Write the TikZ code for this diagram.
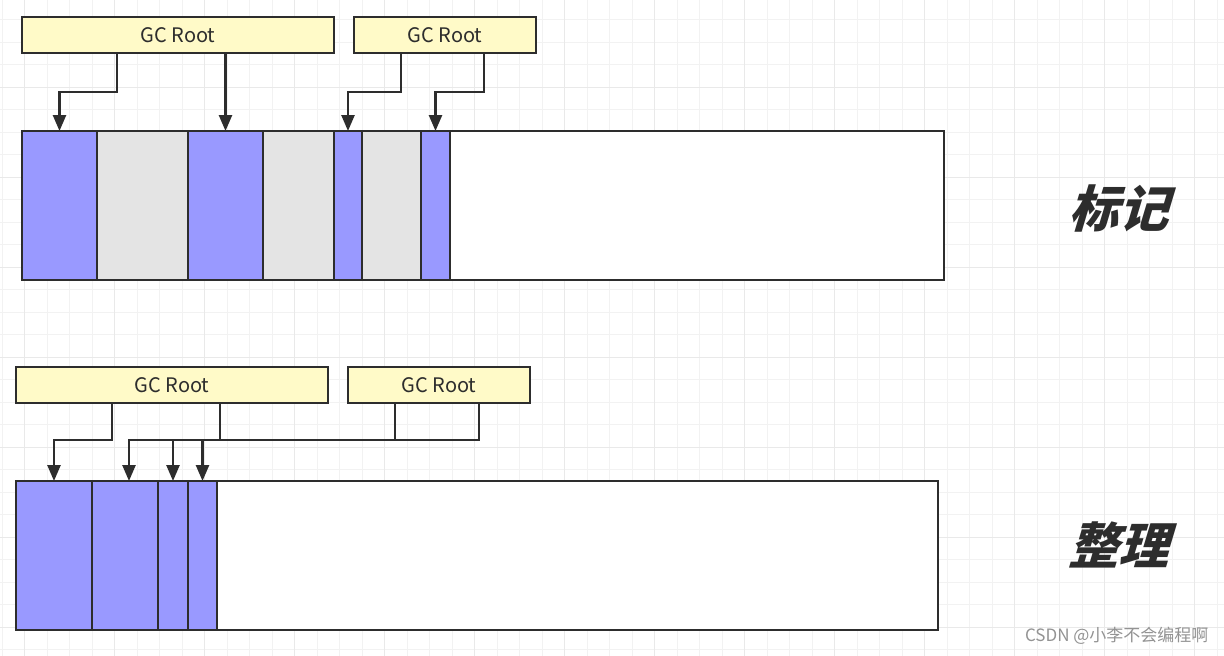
\documentclass[tikz,border=0pt]{standalone}
\usepackage{fontspec}
\usepackage{tikz}
\usetikzlibrary{arrows.meta,positioning}
\newfontfamily\cjk{Noto Sans CJK SC}
\newfontfamily\markfont{Noto Sans CJK SC}[FakeSlant=0.3]
\definecolor{edge}{RGB}{45,45,45}
\definecolor{rootyellow}{RGB}{255,250,200}
\definecolor{liveblue}{RGB}{153,153,255}
\definecolor{deadgray}{RGB}{228,228,228}
\definecolor{gridminor}{RGB}{242,242,242}
\definecolor{gridmajor}{RGB}{233,233,233}
\tikzset{
    %Define standard arrow tip
    >={Triangle[length=16pt,width=13pt]},
    %Define style for the root boxes
    rootbox/.style={
           rectangle,
           draw=edge, line width=2.5pt,
           fill=rootyellow,
           minimum width=#1,
           minimum height=36pt,
           inner sep=0pt, outer sep=0pt,
           anchor=north west,
           text=edge,
           font=\cjk\fontsize{20pt}{20pt}\selectfont},
    %Define style for heap blocks
    seg/.style={
           rectangle,
           draw=edge, line width=2.5pt,
           minimum height=149pt,
           minimum width=#1,
           inner sep=0pt, outer sep=0pt},
    live/.style={seg=#1, fill=liveblue},
    dead/.style={seg=#1, fill=deadgray},
    free/.style={seg=#1, fill=white},
    % Define arrow style
    ptr/.style={
           ->,
           draw=edge,
           line width=2.5pt},
    wire/.style={
           draw=edge,
           line width=2.5pt},
    phase/.style={
           text=edge,
           font=\markfont\bfseries\fontsize{50pt}{50pt}\selectfont}
}
\begin{document}
\begin{tikzpicture}[x=1pt,y=-1pt]
\useasboundingbox (0,0) rectangle (1224,656);
\fill[white] (0,0) rectangle (1224,656);
% background grid
\foreach \i in {0,...,54}
  \draw[gridminor,line width=1pt] (2+22.5*\i,0) -- (2+22.5*\i,656);
\foreach \i in {0,...,29}
  \draw[gridminor,line width=1pt] (0,-3+22.5*\i) -- (1224,-3+22.5*\i);
\foreach \i in {0,...,13}
  \draw[gridmajor,line width=1pt] (24.5+90*\i,0) -- (24.5+90*\i,656);
\foreach \i in {0,...,7}
  \draw[gridmajor,line width=1pt] (0,-3+90*\i) -- (1224,-3+90*\i);

% mark phase
\node[rootbox=312pt](rootA) at (22,17){GC Root};
\node[rootbox=182pt](rootB) at (354,17){GC Root};
\node[live=75pt, anchor=north west](segA) at (22,131){};
\node[dead=91pt, right=0pt of segA](segB){};
\node[live=75pt, right=0pt of segB](segC){};
\node[dead=71pt, right=0pt of segC](segD){};
\node[live=28pt, right=0pt of segD](segE){};
\node[dead=59pt, right=0pt of segE](segF){};
\node[live=29pt, right=0pt of segF](segG){};
\node[free=494pt, right=0pt of segG](segH){};
\draw[ptr] ([xshift=95pt]rootA.south west) -- ++(0,39) -| (segA.north);
\draw[ptr] (rootA.south -| segC.north) -- (segC.north);
\draw[ptr] ([xshift=47pt]rootB.south west) -- ++(0,39) -| (segE.north);
\draw[ptr] ([xshift=130pt]rootB.south west) -- ++(0,39) -| (segG.north);
\node[phase](markLabel) at (1118,208){标记};

% compact phase
\node[rootbox=312pt](rootC) at (16,367){GC Root};
\node[rootbox=182pt](rootD) at (348,367){GC Root};
\node[live=76pt, anchor=north west](segI) at (16,481){};
\node[live=66pt, right=0pt of segI](segJ){};
\node[live=30pt, right=0pt of segJ](segK){};
\node[live=29pt, right=0pt of segK](segL){};
\node[free=721pt, right=0pt of segL](segM){};
\draw[ptr] ([xshift=96pt]rootC.south west) -- ++(0,37) -| (segI.north);
\draw[ptr] ([xshift=131pt]rootD.south west) -- ++(0,37) coordinate (bus) -| ([xshift=4pt]segJ.north);
\draw[ptr] (bus -| segK.north) -- (segK.north);
\draw[ptr] (bus -| segL.north) -- (segL.north);
\draw[wire] ([xshift=204pt]rootC.south west) -- ++(0,37);
\draw[wire] ([xshift=47pt]rootD.south west) -- ++(0,37);
\node[phase](compactLabel) at (1118,545){整理};

\node[text=gray!85, font=\cjk\fontsize{17pt}{17pt}\selectfont, anchor=east](credit) at (1212,636){CSDN @小李不会编程啊};
\end{tikzpicture}
\end{document}
